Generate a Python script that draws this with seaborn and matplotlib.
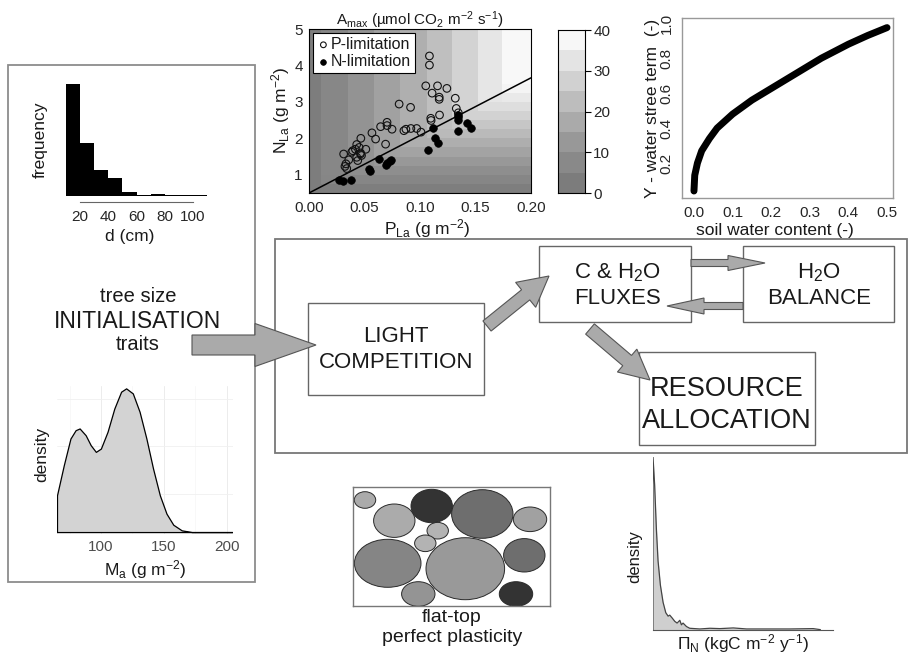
import matplotlib
matplotlib.use("Agg")
import matplotlib.pyplot as plt
import numpy as np
import pandas as pd
import seaborn as sns
from matplotlib.colors import LinearSegmentedColormap
from matplotlib.patches import Rectangle, Ellipse, FancyArrow

W, H = 909, 658

# ---- values ----
# tree diameter histogram
d_edges = [10, 20, 30, 40, 50, 60, 70, 80, 90, 100, 110]
d_counts = [330, 157, 77, 54, 12, 4, 5, 2, 2, 4]

# leaf mass per area density (polygon outline, closed back along the baseline)
ma_x = [65.4, 65.4, 70.8, 76.1, 80.2, 83.4, 88.2, 92.2, 96.3, 100.3, 105.6, 111.0,
        116.4, 120.4, 125.7, 131.1, 136.5, 141.8, 147.2, 152.5, 157.9, 164.6,
        172.7, 204.8, 65.4]
ma_y = [0, 0.256, 0.465, 0.651, 0.709, 0.721, 0.674, 0.605, 0.558, 0.581, 0.698,
        0.86, 0.977, 1.0, 0.965, 0.837, 0.651, 0.442, 0.256, 0.128, 0.051, 0.012,
        0, 0, 0]

# Amax background field: P columns and N rows
p_edges = [0, 0.0106, 0.0348, 0.059, 0.082, 0.106, 0.129, 0.152, 0.174, 0.2]
amax_p_cols = [3, 7, 11, 15, 19, 23, 28, 33, 38]
n_edges = [0.5, 0.75, 1.0, 1.25, 1.5, 1.75, 2.0, 2.25, 2.5, 2.75, 3.0, 3.25,
           3.5, 3.75, 4.0, 4.25, 4.5, 4.75, 5.0]
amax_n_rows = [3.5, 6.6, 9.6, 12.6, 15.7, 18.7, 21.7, 24.8, 27.8, 30.9, 33.9,
               36.9, 40, 40, 40, 40, 40, 40]
amax_levels = [0, 5, 10, 15, 20, 25, 30, 35, 40]

p_lim_p = [0.1085, 0.1085, 0.1052, 0.1158, 0.1242, 0.1109, 0.1173, 0.1173, 0.1318,
           0.0812, 0.0915, 0.1327, 0.1176, 0.1097, 0.1100, 0.1345, 0.0703, 0.0703,
           0.0645, 0.0748, 0.0567, 0.0600, 0.0690, 0.0855, 0.0873, 0.0918, 0.0970,
           0.1009, 0.0467, 0.0430, 0.0418, 0.0394, 0.0464, 0.0512, 0.0473, 0.0464,
           0.0430, 0.0312, 0.0385, 0.0439, 0.0358, 0.0333, 0.0324, 0.0340, 0.0452]
p_lim_n = [4.26, 4.01, 3.44, 3.44, 3.37, 3.24, 3.13, 3.07, 3.10,
           2.94, 2.85, 2.82, 2.64, 2.55, 2.49, 2.70, 2.44, 2.35,
           2.32, 2.25, 2.15, 1.98, 1.84, 2.21, 2.25, 2.27, 2.27,
           2.17, 2.00, 1.83, 1.70, 1.66, 1.60, 1.70, 1.53, 1.57,
           1.48, 1.57, 1.62, 1.39, 1.41, 1.30, 1.23, 1.17, 1.75]
n_lim_p = [0.0267, 0.0303, 0.0379, 0.0545, 0.0552, 0.0630, 0.0690, 0.0706, 0.0727,
           0.0742, 0.1073, 0.1115, 0.1139, 0.1158, 0.1339, 0.1342, 0.1345, 0.1345,
           0.1424, 0.1460]
n_lim_n = [0.87, 0.83, 0.85, 1.15, 1.10, 1.44, 1.28, 1.33, 1.37,
           1.40, 1.68, 2.27, 2.00, 1.86, 2.64, 2.58, 2.49, 2.19,
           2.42, 2.29]
limit_line_p = [0.0, 0.2]
limit_line_n = [0.5, 3.66]

# water stress term vs soil water content
swc = [0.0, 0.002, 0.009, 0.02, 0.04, 0.06, 0.1, 0.15, 0.18, 0.24, 0.3, 0.33,
       0.4, 0.45, 0.5]
gamma = [0.04, 0.13, 0.2, 0.27, 0.34, 0.4, 0.48, 0.56, 0.6, 0.68, 0.76, 0.8,
         0.88, 0.93, 0.975]

# net production density (relative x, relative density)
pin_x = [0.0, 0.0, 0.009, 0.019, 0.028, 0.041, 0.056, 0.071, 0.084, 0.093, 0.106,
         0.121, 0.134, 0.149, 0.158, 0.167, 0.186, 0.204, 0.26, 0.316, 0.372,
         0.446, 0.52, 0.632, 0.76, 0.89, 0.93]
pin_y = [0.0, 1.0, 0.84, 0.58, 0.40, 0.26, 0.16, 0.10, 0.08, 0.086, 0.07,
         0.05, 0.04, 0.056, 0.03, 0.04, 0.02, 0.01, 0.006, 0.01, 0.008,
         0.012, 0.006, 0.006, 0.006, 0.008, 0.002]

# flat-top crown map (panel pixel units)
crown_x = [12, 41.3, 78.7, 129.3, 177, 84.7, 72.3, 34.7, 112.3, 171.3, 65.3, 163]
crown_y = [13, 33.7, 19, 27, 32.3, 43.7, 56.3, 76.3, 81.7, 68.3, 107, 107]
crown_w = [21.4, 41.4, 41.4, 61.4, 33.4, 21.4, 21.4, 66.6, 78.6, 41.4, 33.4, 33.4]
crown_h = [16.6, 33.4, 33.4, 48.6, 24.6, 16.6, 16.6, 48, 62, 33.4, 24.6, 24.6]
crown_gray = [0.67, 0.67, 0.2, 0.43, 0.63, 0.7, 0.7, 0.52, 0.6, 0.43, 0.58, 0.2]

sns.set_style("white")
plt.rcParams["font.family"] = ["Liberation Sans", "DejaVu Sans"]
plt.rcParams["mathtext.fontset"] = "custom"
plt.rcParams["mathtext.rm"] = "Liberation Sans"
plt.rcParams["mathtext.it"] = "Liberation Sans:italic"
plt.rcParams["mathtext.bf"] = "Liberation Sans:bold"
plt.rcParams["text.color"] = "#1a1a1a"
plt.rcParams["axes.labelcolor"] = "#1a1a1a"

fig = plt.figure(figsize=(W / 100, H / 100), dpi=100)


def px_box(x0, y0, x1, y1):
    return [x0 / W, 1 - y1 / H, (x1 - x0) / W, (y1 - y0) / H]


def label_coords(ax, px, py):
    x0, y0, w, h = ax.get_position().bounds
    return (px / W - x0) / w, ((1 - py / H) - y0) / h


# ---- diagram layer ----
bg = fig.add_axes([0, 0, 1, 1])
bg.set_xlim(0, W)
bg.set_ylim(H, 0)
bg.axis("off")

bg.add_patch(Rectangle((8, 65), 247, 517, fill=False, ec="#8c8c8c", lw=1.3))
bg.add_patch(Rectangle((275, 239), 632, 214, fill=False, ec="#777777", lw=1.3))
small_boxes = [(308, 303, 176, 92), (539, 246, 152, 76), (743, 246, 151, 76),
               (639, 352, 176, 93)]
for bx, by, bw, bh in small_boxes:
    bg.add_patch(Rectangle((bx, by), bw, bh, fill=False, ec="#666666", lw=1.0))

arrows = [
    (192, 345, 124, 0, 20, 43, 61),
    (487, 326, 62, -50, 13, 32, 30),
    (691, 263, 74, 0, 7, 15, 37),
    (743, 306, -76, 0, 7, 16, 37),
    (590, 329, 60, 51, 13.5, 30, 30),
]
for ax0, ay0, adx, ady, aw, ahw, ahl in arrows:
    bg.add_patch(FancyArrow(ax0, ay0, adx, ady, width=aw, head_width=ahw,
                            head_length=ahl, length_includes_head=True,
                            fc="#aaaaaa", ec="#555555", lw=0.8, zorder=3))

txt = dict(ha="center", va="center", color="#1a1a1a")
bg.text(138, 297, "tree size", fontsize=14.5, **txt)
bg.text(138, 321, "INITIALISATION", fontsize=16.5, **txt)
bg.text(138, 345, "traits", fontsize=14.5, **txt)
bg.text(396, 336, "LIGHT", fontsize=16, **txt)
bg.text(396, 362, "COMPETITION", fontsize=16, **txt)
bg.text(617, 273, "C & H$_2$O", fontsize=16, **txt)
bg.text(617, 298, "FLUXES", fontsize=16, **txt)
bg.text(819, 273, "H$_2$O", fontsize=16, **txt)
bg.text(819, 298, "BALANCE", fontsize=16, **txt)
bg.text(727, 389, "RESOURCE", fontsize=19.5, **txt)
bg.text(727, 421, "ALLOCATION", fontsize=19.5, **txt)
bg.text(452, 618, "flat-top", fontsize=14, **txt)
bg.text(452, 638, "perfect plasticity", fontsize=14, **txt)

# ---- diameter histogram ----
ax_d = fig.add_axes(px_box(66, 84, 207, 196))
d_mids = [(a + b) / 2 for a, b in zip(d_edges[:-1], d_edges[1:])]
sns.histplot(x=d_mids, weights=d_counts, bins=d_edges, color="black",
             alpha=1, linewidth=0, ax=ax_d)
ax_d.set_xlim(10, 110)
ax_d.set_ylim(0, 330)
ax_d.set_facecolor("none")
sns.despine(ax=ax_d, left=True)
ax_d.spines["bottom"].set_bounds(20, 100)
ax_d.spines["bottom"].set_position(("outward", 4))
ax_d.spines["bottom"].set_color("#666666")
ax_d.set_yticks([])
ax_d.set_xticks([20, 40, 60, 80, 100])
ax_d.tick_params(axis="x", length=4, color="#666666", labelsize=11, pad=2)
ax_d.set_xlabel("d (cm)", fontsize=12.5, va="center")
ax_d.set_ylabel("frequency", fontsize=12.5, va="center")
ax_d.xaxis.set_label_coords(*label_coords(ax_d, 130, 237))
ax_d.yaxis.set_label_coords(*label_coords(ax_d, 40, 140))

# ---- Ma density ----
ax_m = fig.add_axes(px_box(57, 386, 233, 534))
ax_m.set_facecolor("none")
for gx in [100, 150, 200]:
    ax_m.axvline(gx, color="#ececec", lw=0.7, zorder=0)
for gx in [75, 125, 175]:
    ax_m.axvline(gx, color="#f5f5f5", lw=0.5, zorder=0)
for gy in [0.27, 0.6, 0.93]:
    ax_m.axhline(gy, color="#f0f0f0", lw=0.6, zorder=0)
ax_m.fill(ma_x, ma_y, color="#d3d3d3", lw=0, zorder=1)
sns.lineplot(x=ma_x, y=ma_y, sort=False, estimator=None, color="black",
             lw=0.9, ax=ax_m, zorder=2)
ax_m.set_xlim(65, 205)
ax_m.set_ylim(-0.01, 1.02)
for s in ax_m.spines.values():
    s.set_visible(False)
ax_m.set_xticks([100, 150, 200])
ax_m.set_yticks([0.27, 0.6, 0.93])
ax_m.set_yticklabels([])
ax_m.tick_params(axis="x", length=0, labelsize=11, labelcolor="#4d4d4d", pad=4)
ax_m.tick_params(axis="y", length=2.5, color="#bbbbbb")
ax_m.set_xlabel("M$_{\\mathrm{a}}$ (g m$^{-2}$)", fontsize=12.5, va="center")
ax_m.set_ylabel("density", fontsize=12.5, va="center")
ax_m.xaxis.set_label_coords(*label_coords(ax_m, 145, 570))
ax_m.yaxis.set_label_coords(*label_coords(ax_m, 42, 454))

# ---- Amax field with limitation points ----
amax_cmap = LinearSegmentedColormap.from_list(
    "amax", [(0, "#757575"), (0.25, "#8f8f8f"), (0.5, "#b3b3b3"),
             (0.75, "#dbdbdb"), (1, "#ffffff")])
ax_a = fig.add_axes(px_box(309, 29, 531, 193))
field = np.minimum.outer(np.array(amax_n_rows), np.array(amax_p_cols))
ax_a.pcolormesh(p_edges, n_edges, field, cmap=amax_cmap, vmin=0, vmax=40,
                shading="flat", zorder=0)
sns.lineplot(x=limit_line_p, y=limit_line_n, color="black", lw=1.1, ax=ax_a)
sns.scatterplot(x=p_lim_p, y=p_lim_n, s=30, marker="o", facecolors="none",
                edgecolors="#111111", linewidths=0.8, label="P-limitation",
                ax=ax_a, zorder=3)
sns.scatterplot(x=n_lim_p, y=n_lim_n, s=30, marker="o", color="black",
                edgecolor="black", linewidth=0.5, label="N-limitation",
                ax=ax_a, zorder=3)
ax_a.set_xlim(0, 0.2)
ax_a.set_ylim(0.5, 5.0)
ax_a.set_xticks([0.0, 0.05, 0.1, 0.15, 0.2])
ax_a.set_xticklabels(["0.00", "0.05", "0.10", "0.15", "0.20"])
ax_a.set_yticks([1, 2, 3, 4, 5])
ax_a.tick_params(length=4, color="black", labelsize=11, direction="out")
ax_a.tick_params(axis="x", length=3.5, pad=2)
ax_a.tick_params(axis="y", length=3, pad=1.5)
for s in ax_a.spines.values():
    s.set_color("black")
    s.set_linewidth(0.8)
leg = ax_a.legend(loc="upper left", fontsize=11.5, frameon=True, fancybox=False,
                  edgecolor="black", framealpha=1, handletextpad=0.05,
                  borderpad=0.25, labelspacing=0.12, handlelength=0.8,
                  borderaxespad=0.25, markerscale=0.75)
leg.get_frame().set_linewidth(0.8)
ax_a.set_title("A$_{\\mathrm{max}}$ (µmol CO$_2$ m$^{-2}$ s$^{-1}$)",
               fontsize=11, pad=3)
ax_a.set_xlabel("P$_{\\mathrm{La}}$ (g m$^{-2}$)", fontsize=12.5, va="center")
ax_a.set_ylabel("N$_{\\mathrm{La}}$ (g m$^{-2}$)", fontsize=12.5, va="center")
ax_a.xaxis.set_label_coords(*label_coords(ax_a, 427, 229))
ax_a.yaxis.set_label_coords(*label_coords(ax_a, 281, 110))

# colour key
ax_c = fig.add_axes(px_box(558, 30, 585, 193))
level_mid = np.array([(a + b) / 2 for a, b in zip(amax_levels[:-1], amax_levels[1:])])
ax_c.pcolormesh([0, 1], amax_levels, level_mid.reshape(-1, 1), cmap=amax_cmap,
                vmin=0, vmax=40, shading="flat")
ax_c.set_xlim(0, 1)
ax_c.set_ylim(0, 40)
ax_c.set_xticks([])
ax_c.yaxis.tick_right()
ax_c.set_yticks([0, 10, 20, 30, 40])
ax_c.tick_params(axis="y", length=4, labelsize=11, color="black", pad=2)
for s in ax_c.spines.values():
    s.set_color("black")
    s.set_linewidth(0.8)

# ---- water stress ----
ax_w = fig.add_axes(px_box(682, 18, 893, 198))
sns.lineplot(x=swc, y=gamma, sort=False, estimator=None, color="black", lw=5,
             ax=ax_w, solid_capstyle="round")
ax_w.set_xlim(-0.031, 0.5155)
ax_w.set_ylim(0.0, 1.03)
ax_w.set_xticks([0.0, 0.1, 0.2, 0.3, 0.4, 0.5])
ax_w.set_yticks([0.2, 0.4, 0.6, 0.8, 1.0])
ax_w.set_xticklabels(["0.0", "0.1", "0.2", "0.3", "0.4", "0.5"])
ax_w.set_yticklabels(["0.2", "0.4", "0.6", "0.8", "1.0"], rotation=90, va="center")
ax_w.tick_params(length=4, color="#999999", labelsize=11, direction="out", pad=2)
for s in ax_w.spines.values():
    s.set_color("#999999")
    s.set_linewidth(1.0)
ax_w.set_xlabel("soil water content (-)", fontsize=12.5, va="center")
ax_w.set_ylabel("Y - water stree term  (-)", fontsize=12.5, va="center")
ax_w.xaxis.set_label_coords(*label_coords(ax_w, 775, 230))
ax_w.yaxis.set_label_coords(*label_coords(ax_w, 652, 108))

# ---- crown map ----
ax_k = fig.add_axes(px_box(353, 487, 550, 606))
ax_k.set_xlim(0, 197)
ax_k.set_ylim(119, 0)
for cx, cy, cw, ch, cg in zip(crown_x, crown_y, crown_w, crown_h, crown_gray):
    ax_k.add_patch(Ellipse((cx, cy), cw, ch, fc=(cg, cg, cg), ec="#2a2a2a", lw=0.7))
ax_k.set_xticks([])
ax_k.set_yticks([])
for s in ax_k.spines.values():
    s.set_color("#777777")
    s.set_linewidth(1.0)

# ---- net production density ----
ax_p = fig.add_axes(px_box(653, 457, 833, 630))
ax_p.set_facecolor("none")
ax_p.fill_between(pin_x, pin_y, color="#cfcfcf", lw=0)
sns.lineplot(x=pin_x, y=pin_y, sort=False, estimator=None, color="#444444",
             lw=0.9, ax=ax_p)
ax_p.set_xlim(0, 1)
ax_p.set_ylim(0, 1.0)
for k in ["top", "right", "left"]:
    ax_p.spines[k].set_visible(False)
ax_p.spines["bottom"].set_color("#555555")
ax_p.set_xticks([])
ax_p.set_yticks([])
ax_p.set_xlabel("Π$_{\\mathrm{N}}$ (kgC m$^{-2}$ y$^{-1}$)", fontsize=12.5, va="center")
ax_p.set_ylabel("density", fontsize=12, va="center")
ax_p.xaxis.set_label_coords(*label_coords(ax_p, 743, 644))
ax_p.yaxis.set_label_coords(*label_coords(ax_p, 635, 557))

fig.savefig("out.png", dpi=100)
